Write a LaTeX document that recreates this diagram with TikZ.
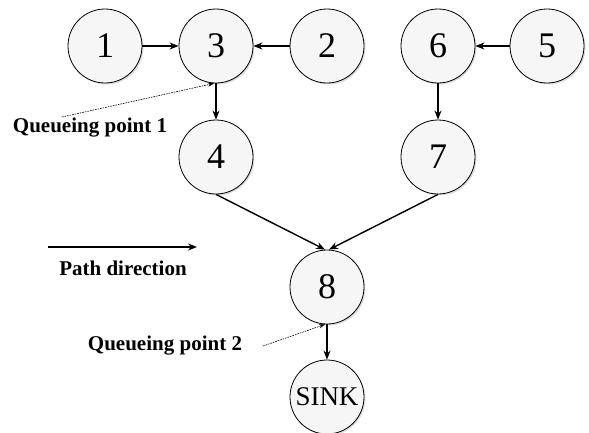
\documentclass[tikz,border=0pt]{standalone}
\usepackage{fontspec}
\setmainfont{Liberation Serif}
\usetikzlibrary{arrows.meta,shadows}
\begin{document}
\begin{tikzpicture}[x=1pt,y=-1pt,
  nd/.style={circle,draw=black,line width=0.8pt,fill=gray!7,minimum size=74pt,inner sep=0pt,
    font=\fontsize{36}{36}\selectfont,
    drop shadow={shadow xshift=1.5pt,shadow yshift=-1.5pt,fill=gray!45,opacity=0.6}},
  sinknd/.style={nd,font=\fontsize{27}{27}\selectfont},
  edge/.style={line width=1.4pt,-{Stealth[length=9pt,width=7pt]}},
  qline/.style={line width=0.6pt,dash pattern=on 1.6pt off 1pt,-{Stealth[length=6pt,width=4pt]}},
  lbl/.style={font=\fontsize{21}{21}\selectfont\bfseries}]
\useasboundingbox (0,0) rectangle (589,432);
\node[nd] (n1) at (105,46) {1};
\node[nd] (n3) at (216,46) {3};
\node[nd] (n2) at (327,46) {2};
\node[nd] (n6) at (438,46) {6};
\node[nd] (n5) at (547,46) {5};
\node[nd] (n4) at (216,157) {4};
\node[nd] (n7) at (438,157) {7};
\node[nd] (n8) at (327,287) {8};
\node[sinknd] (sink) at (327,397) {SINK};
\draw[edge] (n1) -- (n3);
\draw[edge] (n2) -- (n3);
\draw[edge] (n5) -- (n6);
\draw[edge] (n3) -- (n4);
\draw[edge] (n6) -- (n7);
\draw[edge] (n4.south) -- ([xshift=-2pt]n8.north);
\draw[edge] (n7.south) -- ([xshift=2pt]n8.north);
\draw[edge] (n8) -- (sink);
\coordinate (pa) at (48,247);
\coordinate (pb) at (197,247);
\draw[edge] (pa) -- (pb);
\node[lbl] (pd) at (123,268) {Path direction};
\node[lbl] (q1) at (90,128) {Queueing point 1};
\node[lbl] (q2) at (165,346) {Queueing point 2};
\coordinate (q1s) at (62,117);
\coordinate (q2s) at (263,346);
\draw[qline] (q1s) -- ([xshift=-2pt]n3.south);
\draw[qline] (q2s) -- ([xshift=-2pt]n8.south);
\end{tikzpicture}
\end{document}
